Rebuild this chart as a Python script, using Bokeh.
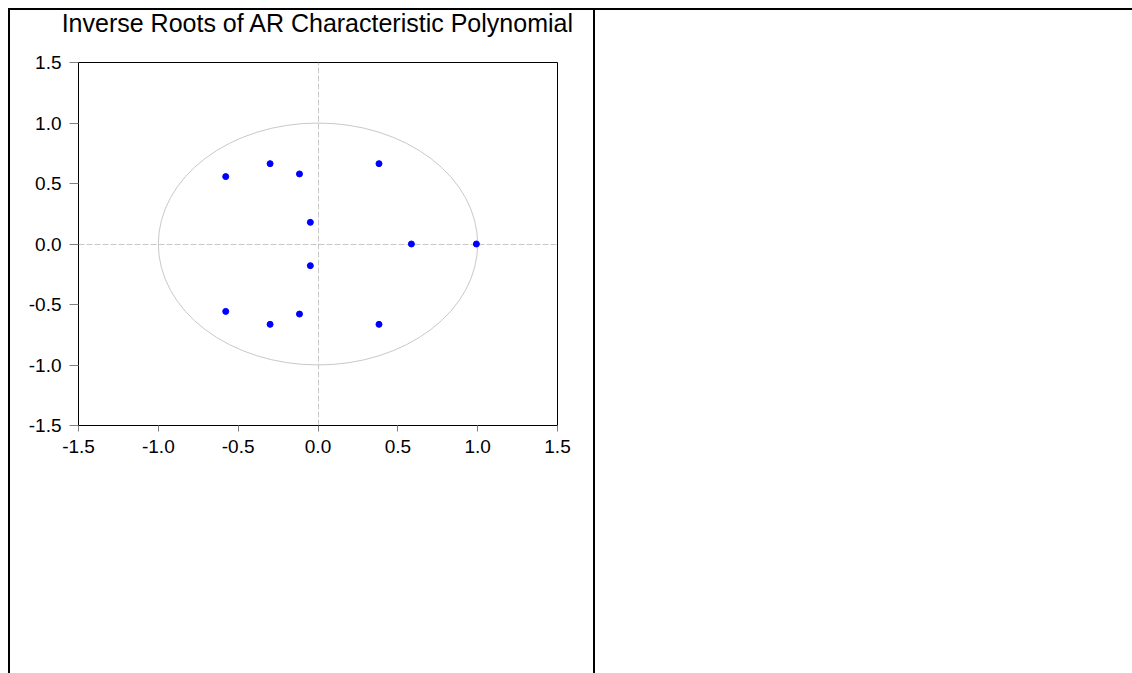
from bokeh.plotting import figure
from bokeh.models import Range1d, FixedTicker, PrintfTickFormatter, Spacer
from bokeh.core.properties import value
from bokeh.layouts import row, column
from bokeh.embed import file_html
from bokeh.resources import INLINE

root_re = [-0.578, -0.300, -0.116, 0.382, -0.048, 0.585, 0.992, -0.048, -0.578, -0.300, -0.116, 0.382]
root_im = [0.557, 0.664, 0.579, 0.664, 0.179, 0.0, 0.0, -0.179, -0.557, -0.664, -0.579, -0.664]
axis_ticks = [-1.5, -1.0, -0.5, 0.0, 0.5, 1.0, 1.5]
unit_radius = 1.0
title_text = "Inverse Roots of AR Characteristic Polynomial"

FONT = "Liberation Sans"
XR = (-1.5, 1.5)

# chart geometry
FIG_W = 583
B_LEFT, B_RIGHT = 68, 36
FRAME_W = FIG_W - B_LEFT - B_RIGHT
ppu = FRAME_W / (XR[1] - XR[0])


def no_align(fig):
    try:
        fig.frame_align = False
    except Exception:
        pass


# ---- title strip: frame spans the full width, x scale identical to the chart ----
t = figure(width=FIG_W, height=42, output_backend="svg", toolbar_location=None,
           x_range=Range1d(XR[0] - B_LEFT / ppu, XR[1] + B_RIGHT / ppu),
           y_range=Range1d(-30, 12),
           x_axis_type=None, y_axis_type=None,
           min_border_left=0, min_border_right=0, min_border_top=0, min_border_bottom=0)
no_align(t)
t.grid.visible = False
t.outline_line_color = None
t.background_fill_color = "white"
t.border_fill_color = "white"
t.text(x=[0.0], y=[0.0], text=[title_text], text_align="center", text_baseline="alphabetic",
       text_font=value(FONT), text_font_size="25px", text_color="black")

# ---- chart ----
p = figure(width=FIG_W, height=621, output_backend="svg", toolbar_location=None,
           x_range=Range1d(*XR), y_range=Range1d(-1.5, 1.5),
           min_border_left=B_LEFT, min_border_right=B_RIGHT, min_border_top=10, min_border_bottom=248)
no_align(p)

p.background_fill_color = "white"
p.border_fill_color = "white"
p.outline_line_color = "black"
p.outline_line_width = 1

# grid only at zero
p.xgrid.ticker = FixedTicker(ticks=[0.0])
p.ygrid.ticker = FixedTicker(ticks=[0.0])
for g in (p.xgrid, p.ygrid):
    g.grid_line_color = "#c8c8c8"
    g.grid_line_dash = "6 2"
    g.grid_line_width = 1

for ax in (p.xaxis, p.yaxis):
    ax.ticker = FixedTicker(ticks=axis_ticks)
    ax.formatter = PrintfTickFormatter(format="%.1f")
    ax.axis_line_color = "black"
    ax.major_tick_line_color = "#808080"
    ax.major_tick_in = 0
    ax.minor_tick_line_color = None
    ax.major_label_text_font = FONT
    ax.major_label_text_font_size = "19px"
    ax.major_label_text_color = "black"
p.yaxis.major_tick_out = 9
p.yaxis.major_label_standoff = 8
p.xaxis.major_tick_out = 6
p.xaxis.major_label_standoff = 8

# unit circle
p.ellipse(x=[0.0], y=[0.0], width=[2 * unit_radius], height=[2 * unit_radius],
          fill_color=None, line_color="#c8c8c8", line_width=1)

# roots
p.scatter(x=root_re, y=root_im, size=6, fill_color="#0000ff", line_color="#0000ff")


def bar(w, h):
    return Spacer(width=w, height=h, styles={"background-color": "black"})


title_row = row(bar(2, 42), t, bar(2, 42), Spacer(width=537, height=42), spacing=0)
chart_row = row(bar(2, 621), p, bar(2, 621), Spacer(width=537, height=621), spacing=0)
cell = column(bar(1124, 2), title_row, chart_row, spacing=0)
page = column(Spacer(width=1132, height=8), row(Spacer(width=8, height=665), cell, spacing=0), spacing=0)

open("out.html", "w").write(file_html(page, INLINE))
